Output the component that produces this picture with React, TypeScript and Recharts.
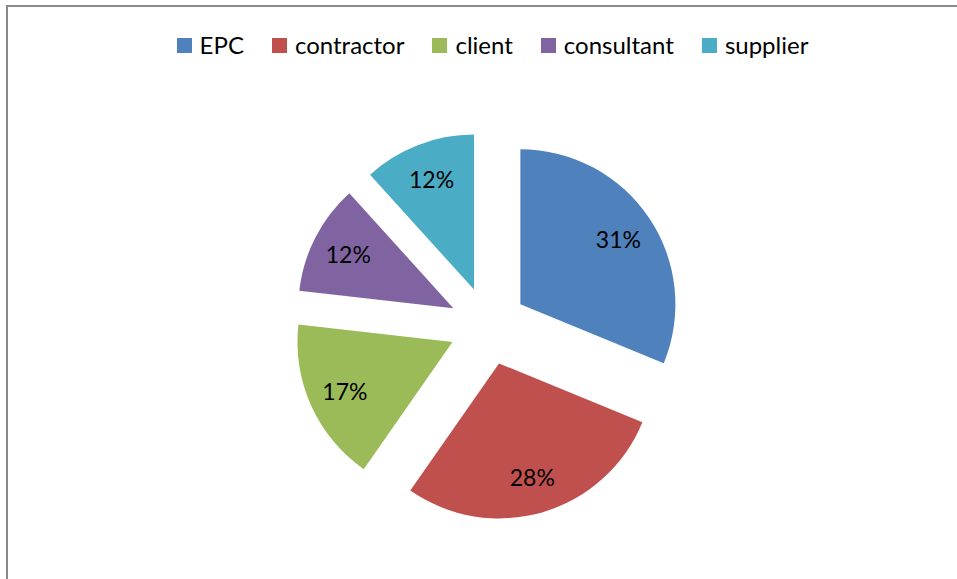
import React from 'react';
import { PieChart, Pie, Cell, Legend } from 'recharts';

const categories = ['EPC', 'contractor', 'client', 'consultant', 'supplier'];
const shares = [31.2, 28.5, 17.1, 11.5, 11.7];
const percentLabels = ['31%', '28%', '17%', '12%', '12%'];
const colors = ['#4F81BD', '#C0504D', '#9BBB59', '#8064A2', '#4BACC6'];

const data = categories.map((name, i) => ({ name, value: shares[i], label: percentLabels[i] }));

const W = 957;
const H = 579;
const CX = 488;
const CY = 326;
const R = 155;
const EXPLODE = 39;
const LABEL_R = 118;
const FONT = 'Lato, "Open Sans", sans-serif';
const RAD = Math.PI / 180;

const total = shares.reduce((a, b) => a + b, 0);
const midAngles = (() => {
  let acc = 0;
  return shares.map((v) => {
    const m = ((acc + v / 2) / total) * 360;
    acc += v;
    return m;
  });
})();

const LegendContent = () => (
  <div
    style={{
      display: 'flex',
      justifyContent: 'center',
      alignItems: 'center',
      fontFamily: FONT,
      fontSize: 24,
      color: '#000',
      paddingLeft: 28,
    }}
  >
    {categories.map((c, i) => (
      <div key={c} style={{ display: 'flex', alignItems: 'center', marginRight: i < categories.length - 1 ? 28 : 0 }}>
        <span style={{ display: 'inline-block', width: 15, height: 15, background: colors[i], marginRight: 8 }} />
        <span style={{ lineHeight: '24px' }}>{c}</span>
      </div>
    ))}
  </div>
);

export default function App() {
  return (
    <div style={{ position: 'absolute', left: 0, top: 0, width: W, height: H, background: '#fff', overflow: 'hidden' }}>
      <PieChart width={W} height={H} margin={{ top: 0, right: 0, bottom: 0, left: 0 }}>
        <Legend
          verticalAlign="middle"
          align="center"
          layout="horizontal"
          content={<LegendContent />}
          wrapperStyle={{ top: 33, left: 0, width: W }}
        />
        {data.map((d, i) => {
          const cx = CX + EXPLODE * Math.sin(midAngles[i] * RAD);
          const cy = CY - EXPLODE * Math.cos(midAngles[i] * RAD);
          return (
            <Pie
              key={d.name}
              data={data}
              dataKey="value"
              nameKey="name"
              cx={cx}
              cy={cy}
              outerRadius={R}
              startAngle={90}
              endAngle={-270}
              stroke="none"
              legendType="none"
              isAnimationActive={false}
              labelLine={false}
              label={(p: any) =>
                p.index === i ? (
                  <text
                    x={cx + LABEL_R * Math.sin(midAngles[i] * RAD)}
                    y={cy - LABEL_R * Math.cos(midAngles[i] * RAD)}
                    textAnchor="middle"
                    dominantBaseline="central"
                    fontFamily={FONT}
                    fontSize={23}
                    fill="#000"
                  >
                    {percentLabels[i]}
                  </text>
                ) : null
              }
            >
              {data.map((e, j) => (
                <Cell key={e.name} fill={j === i ? colors[j] : 'none'} stroke="none" />
              ))}
            </Pie>
          );
        })}
      </PieChart>
      <div
        style={{
          position: 'absolute',
          left: 6,
          top: 5,
          width: 1000,
          height: 700,
          borderLeft: '2px solid #8a8a8a',
          borderTop: '2px solid #8a8a8a',
          pointerEvents: 'none',
        }}
      />
    </div>
  );
}
